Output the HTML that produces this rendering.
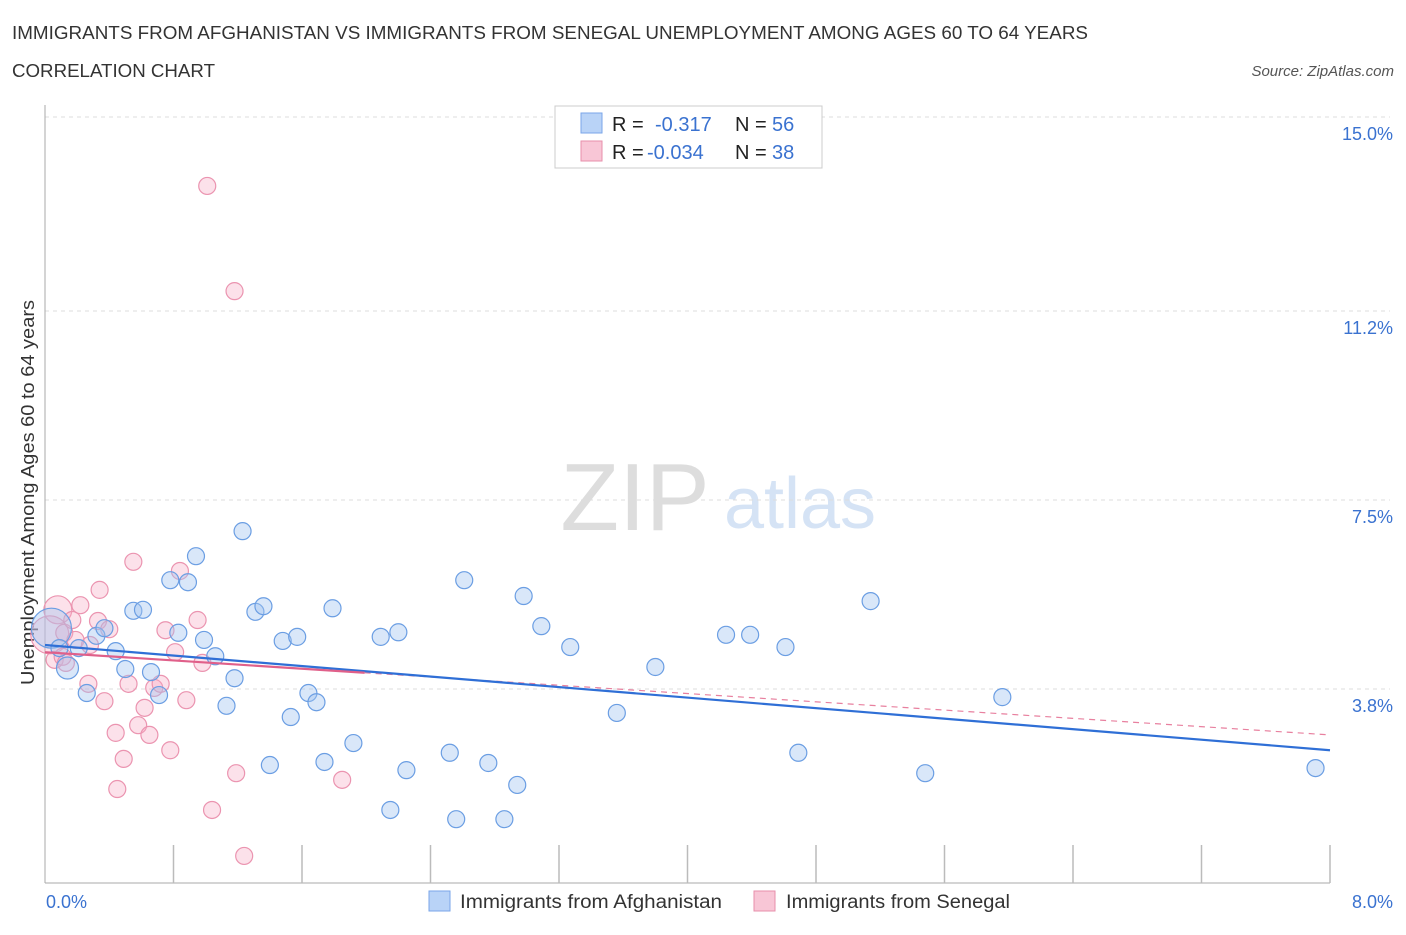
<!DOCTYPE html>
<html><head><meta charset="utf-8"><style>
body{margin:0;background:#fff;font-family:"Liberation Sans",sans-serif;}
svg text{font-family:"Liberation Sans",sans-serif;}
</style></head><body>
<svg id="c" width="1406" height="930" xmlns="http://www.w3.org/2000/svg">
<text x="12" y="39" font-size="18" fill="#333" textLength="1076" lengthAdjust="spacingAndGlyphs">IMMIGRANTS FROM AFGHANISTAN VS IMMIGRANTS FROM SENEGAL UNEMPLOYMENT AMONG AGES 60 TO 64 YEARS</text>
<text x="12" y="77" font-size="18" fill="#333" textLength="203" lengthAdjust="spacingAndGlyphs">CORRELATION CHART</text>
<text x="1394" y="76" font-size="15" fill="#555" font-style="italic" text-anchor="end">Source: ZipAtlas.com</text>
<text x="635" y="530" font-size="96" fill="#ddd" font-family="Liberation Serif" text-anchor="middle">ZIP</text>
<text x="800" y="528" font-size="72" fill="#d5e3f5" text-anchor="middle">atlas</text>
<text transform="translate(34,300) rotate(-90)" x="-385" y="0" font-size="18" fill="#333" textLength="385" lengthAdjust="spacingAndGlyphs">Unemployment Among Ages 60 to 64 years</text>
<g id="grid"></g><g id="marks"></g>
<g>
<rect x="555" y="106" width="267" height="62" fill="#fff" stroke="#ccc"/>
<rect x="581" y="113" width="21" height="20" fill="#b9d3f7" stroke="#7aa6e8"/>
<rect x="581" y="141" width="21" height="20" fill="#f8c6d6" stroke="#e78fab"/>
<text x="612" y="131" font-size="20" fill="#222">R = </text><text x="655" y="131" font-size="20" fill="#3a72d0">-0.317</text>
<text x="735" y="131" font-size="20" fill="#222">N = </text><text x="772" y="131" font-size="20" fill="#3a72d0">56</text>
<text x="612" y="159" font-size="20" fill="#222">R = </text><text x="647" y="159" font-size="20" fill="#3a72d0">-0.034</text>
<text x="735" y="159" font-size="20" fill="#222">N = </text><text x="772" y="159" font-size="20" fill="#3a72d0">38</text>
</g>
<g>
<rect x="429" y="891" width="21" height="20" fill="#b9d3f7" stroke="#7aa6e8"/>
<text x="460" y="908" font-size="19" fill="#333" textLength="262" lengthAdjust="spacingAndGlyphs">Immigrants from Afghanistan</text>
<rect x="754" y="891" width="21" height="20" fill="#f8c6d6" stroke="#e78fab"/>
<text x="786" y="908" font-size="19" fill="#333" textLength="224" lengthAdjust="spacingAndGlyphs">Immigrants from Senegal</text>
</g>
</svg>
<script>
const blueX=[0.04,0.14,0.09,0.21,0.26,0.32,0.37,0.44,0.50,0.55,0.61,0.66,0.71,0.78,0.83,0.89,0.94,0.99,1.06,1.13,1.18,1.23,1.31,1.36,1.40,1.48,1.53,1.57,1.64,1.69,1.74,1.79,1.92,2.09,2.15,2.20,2.25,2.52,2.56,2.61,2.76,2.86,2.94,2.98,3.09,3.27,3.56,3.80,4.24,4.39,4.61,4.69,5.14,5.48,5.96,7.91];
const blueY=[4.99,4.21,4.60,4.60,3.72,4.84,4.99,4.54,4.19,5.33,5.35,4.13,3.68,5.93,4.90,5.89,6.40,4.76,4.44,3.47,4.01,6.89,5.31,5.42,2.31,4.74,3.25,4.82,3.72,3.54,2.37,5.38,2.74,4.82,1.43,4.91,2.21,2.55,1.25,5.93,2.35,1.25,1.92,5.62,5.03,4.62,3.33,4.23,4.86,4.86,4.62,2.55,5.52,2.15,3.64,2.25];
const pinkX=[1.01,1.18,0.08,0.03,0.06,0.12,0.17,0.22,0.19,0.28,0.34,0.33,0.40,0.27,0.37,0.44,0.45,0.49,0.52,0.55,0.58,0.62,0.65,0.68,0.72,0.75,0.78,0.81,0.84,0.88,0.95,0.98,1.04,1.19,1.24,1.85,0.11,0.13];
const pinkY=[13.65,11.59,5.35,4.86,4.37,4.90,5.15,5.44,4.76,4.66,5.74,5.13,4.97,3.90,3.56,2.94,1.84,2.43,3.90,6.29,3.09,3.43,2.90,3.82,3.90,4.95,2.60,4.52,6.11,3.58,5.15,4.31,1.43,2.15,0.53,2.02,4.43,4.31];
const blueTrend=[4.66,2.60];
const pinkTrend=[4.52,2.90];
const yTicks=[15.0,11.2,7.5,3.8];
const yTickLabels=["15.0%","11.2%","7.5%","3.8%"];
const NS="http://www.w3.org/2000/svg";
const X0=45,X1=1330,Y0=883,YT=117;
const sx=v=>X0+v/8*(X1-X0);
const sy=v=>Y0-v/15*(Y0-YT);
function mk(t,a,p){const e=document.createElementNS(NS,t);for(const k in a)e.setAttribute(k,a[k]);p.appendChild(e);return e;}
const g=document.getElementById('grid'),m=document.getElementById('marks');
yTicks.forEach((t,i)=>{
 const l=mk('line',{x1:X0,x2:1390,y1:sy(t),y2:sy(t),stroke:'#ddd','stroke-dasharray':'4,4'},g);
 
 
 const tx=mk('text',{x:1393,y:sy(t)+23,'font-size':18,fill:'#3a72d0','text-anchor':'end'},g);
 tx.textContent=yTickLabels[i];
 
 
});
const ax=mk('line',{x1:X0,x2:X0,y1:105,y2:Y0,stroke:'#aaa'},g);


const bx=mk('line',{x1:X0,x2:X1,y1:Y0,y2:Y0,stroke:'#aaa'},g);


for(let i=1;i<=10;i++){const x=X0+i*(X1-X0)/10;const t=mk('line',{x1:x,x2:x,y1:Y0-38,y2:Y0,stroke:'#bbb','stroke-width':1.5},g);
 
 }
const xl=mk('text',{x:46,y:908,'font-size':18,fill:'#3a72d0'},g);xl.textContent='0.0%';


const xr=mk('text',{x:1393,y:908,'font-size':18,fill:'#3a72d0','text-anchor':'end'},g);xr.textContent='8.0%';


pinkX.forEach((v,i)=>{const c=mk('circle',{cx:sx(v),cy:sy(pinkY[i]),r:(i==3?19:(i==2?14:8.5)),fill:'rgba(245,170,195,0.35)',stroke:'#eb94b0','stroke-width':1.2},m);
 
 });
blueX.forEach((v,i)=>{const c=mk('circle',{cx:sx(v),cy:sy(blueY[i]),r:(i==0?20:(i==1?11:8.5)),fill:'rgba(160,195,240,0.4)',stroke:'#6b9ee3','stroke-width':1.2},m);
 
 });
const pyAt=x=>pinkTrend[0]+(pinkTrend[1]-pinkTrend[0])*x/8;
const pd=mk('line',{x1:sx(1.99),y1:sy(pyAt(1.99)),x2:sx(8),y2:sy(pinkTrend[1]),stroke:'#e8809f','stroke-width':1.2,'stroke-dasharray':'6,5'},m);


const bl=mk('line',{x1:sx(0),y1:sy(blueTrend[0]),x2:sx(8),y2:sy(blueTrend[1]),stroke:'#2f6fd6','stroke-width':2.2},m);


const pl=mk('line',{x1:sx(0),y1:sy(pinkTrend[0]),x2:sx(1.99),y2:sy(pyAt(1.99)),stroke:'#e0608a','stroke-width':2.2},m);


</script>
</body></html>
